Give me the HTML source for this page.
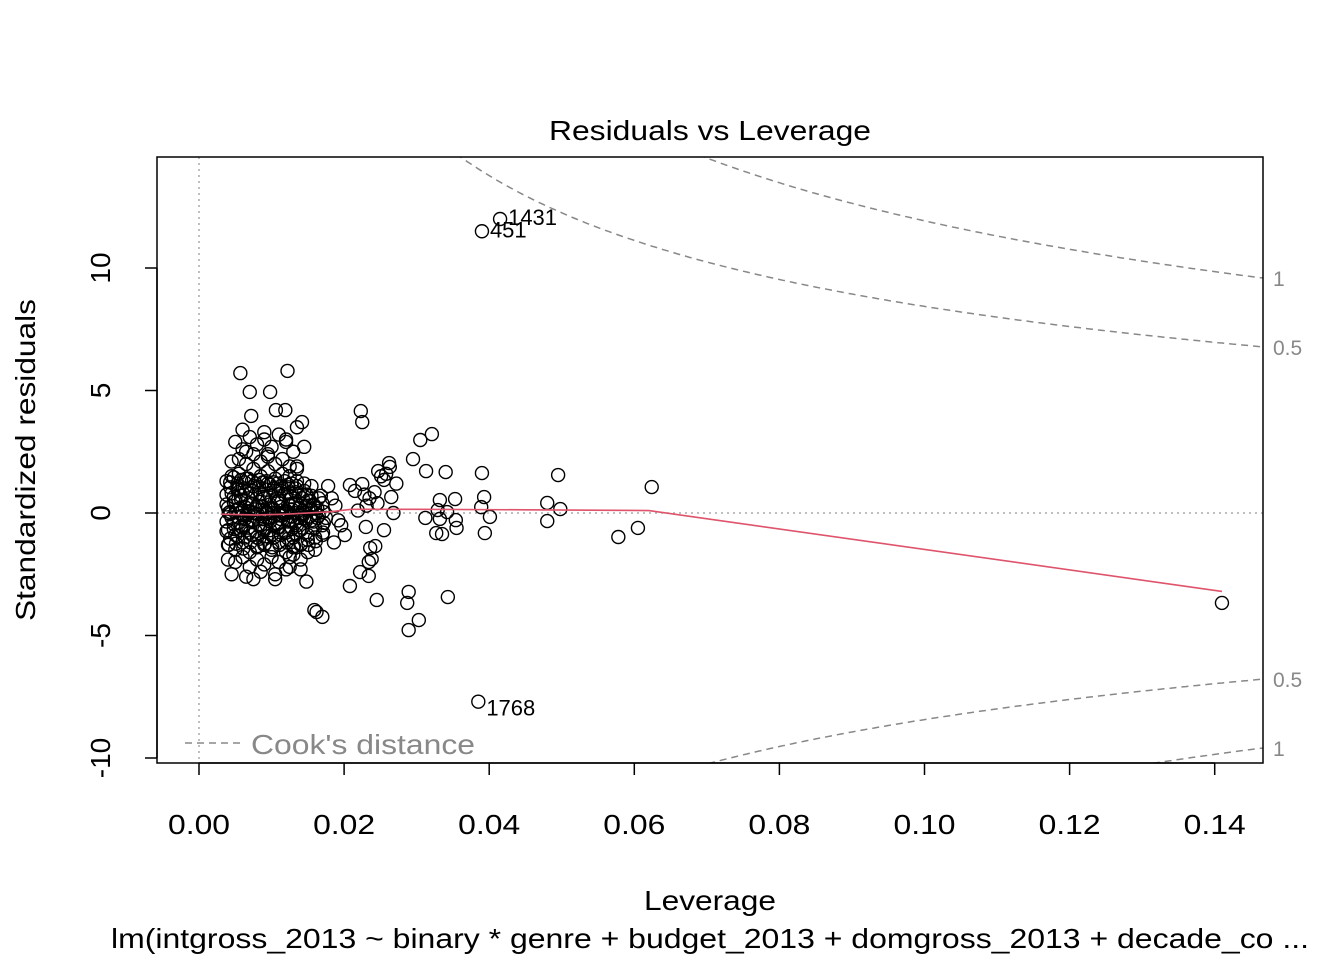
<!DOCTYPE html>
<html><head><meta charset="utf-8">
<style>
html,body{margin:0;background:#fff;overflow:hidden;width:1344px;height:960px;}
svg{display:block;font-family:"Liberation Sans",Arial,sans-serif;}
</style></head>
<body>
<svg id="chart" width="1344" height="960">
<text x="710" y="140" font-size="28" text-anchor="middle" textLength="322" lengthAdjust="spacingAndGlyphs">Residuals vs Leverage</text>
<text x="710" y="910" font-size="28" text-anchor="middle" textLength="132" lengthAdjust="spacingAndGlyphs">Leverage</text>
<text x="710" y="948" font-size="28" text-anchor="middle" textLength="1198" lengthAdjust="spacingAndGlyphs">lm(intgross_2013 ~ binary * genre + budget_2013 + domgross_2013 + decade_co ...</text>
<text transform="translate(35,460) rotate(-90)" font-size="28" text-anchor="middle" textLength="322" lengthAdjust="spacingAndGlyphs">Standardized residuals</text>
<g id="g"></g>
</svg>
<script>
const xTicks=[0,0.02,0.04,0.06,0.08,0.10,0.12,0.14];
const xTickLabels=["0.00","0.02","0.04","0.06","0.08","0.10","0.12","0.14"];
const yTicks=[-10,-5,0,5,10];
const yTickLabels=["-10","-5","0","5","10"];
const cookLevels=[0.5,1];
const cookLabels=["0.5","1"];
const smoothH=[0.003,0.008,0.012,0.018,0.021,0.03,0.045,0.062,0.141];
const smoothR=[-0.05,-0.08,-0.05,0.05,0.15,0.15,0.13,0.1,-3.2];
const outH=[0.0057,0.0122,0.007,0.0098,0.0072,0.0106,0.0119,0.0142,0.0223,0.0225,0.0321,0.0305,0.0295,0.0313,0.034,0.039,0.0495,0.0624,0.0263,0.0255,0.0247,0.0262,0.0208,0.0225,0.0265,0.0332,0.0353,0.0393,0.048,0.0498,0.0389,0.0329,0.0342,0.0332,0.0354,0.0312,0.0401,0.0355,0.048,0.0394,0.0327,0.0335,0.0578,0.0605,0.0255,0.023,0.0236,0.0243,0.0238,0.0234,0.0222,0.0234,0.0208,0.0289,0.0287,0.0343,0.0245,0.0303,0.0289,0.0159,0.0162,0.017,0.141,0.0415,0.039,0.0385,0.0215,0.0228,0.0235,0.0242,0.0251,0.0258,0.0272,0.0231,0.0219,0.0246,0.0268,0.0196,0.0201,0.0188,0.0192,0.0183,0.0186];
const outR=[5.71,5.8,4.94,4.94,3.96,4.2,4.2,3.71,4.16,3.71,3.22,2.98,2.2,1.71,1.67,1.63,1.55,1.06,1.88,1.35,1.71,2.04,1.14,1.18,0.65,0.53,0.57,0.65,0.41,0.16,0.24,0.12,0.04,-0.24,-0.29,-0.2,-0.16,-0.61,-0.33,-0.82,-0.82,-0.86,-0.98,-0.61,-0.7,-0.57,-1.43,-1.35,-1.88,-2.0,-2.41,-2.57,-2.98,-3.22,-3.67,-3.43,-3.55,-4.37,-4.78,-3.96,-4.04,-4.24,-3.67,12.0,11.5,-7.7,0.9,0.75,0.6,0.85,1.5,1.6,1.2,0.3,0.1,0.4,0.0,-0.5,-0.9,0.3,-0.3,0.6,-1.2];
const outLabelIdx=[63,64,65];
const outLabels=["1431","451","1768"];
const clH=[0.004,0.005,0.006,0.007,0.008,0.009,0.010,0.011,0.012,0.013,0.014,0.015,0.016,0.017,0.0045,0.0055,0.0065,0.0075,0.0085,0.0095,0.0105,0.0115,0.0125,0.0135,0.0145,0.0155,0.0165,0.004,0.005,0.006,0.007,0.008,0.009,0.010,0.011,0.012,0.013,0.014,0.015,0.016,0.017,0.0045,0.0055,0.0065,0.0075,0.0085,0.0095,0.0105,0.0115,0.0125,0.0135,0.0145,0.0155,0.0165,0.004,0.005,0.006,0.007,0.008,0.009,0.010,0.011,0.012,0.013,0.014,0.015,0.016,0.017,0.0045,0.0055,0.0065,0.0075,0.0085,0.0095,0.0105,0.0115,0.0125,0.0135,0.0145,0.0155,0.004,0.005,0.006,0.007,0.008,0.009,0.010,0.011,0.012,0.013,0.014,0.015,0.016,0.0045,0.0055,0.0065,0.0075,0.0085,0.0095,0.0105,0.0115,0.0125,0.0135,0.0145,0.005,0.006,0.007,0.008,0.009,0.010,0.011,0.012,0.013,0.014,0.0045,0.0065,0.0085,0.0105,0.0125,0.0145,0.0055,0.0075,0.0095,0.0115,0.0135,0.006,0.009,0.012,0.0148,0.0075,0.0105,0.0135,0.0065,0.0095,0.0125,0.0158,0.0172,0.0168,0.0175,0.0178,0.0164];
const clR=[0.2,0.5,0.1,0.4,0.3,0.6,0.2,0.5,0.1,0.4,0.3,0.5,0.2,0.4,-0.2,-0.4,-0.1,-0.3,-0.5,-0.2,-0.4,-0.1,-0.3,-0.5,-0.2,-0.3,-0.1,-0.7,-0.9,-0.6,-0.8,-1.0,-0.7,-0.9,-0.6,-0.8,-1.0,-0.7,-0.9,-0.6,-0.5,0.8,1.0,0.9,1.1,0.8,1.2,0.9,1.0,0.8,1.1,0.9,0.7,0.6,-1.3,-1.5,-1.2,-1.6,-1.4,-1.3,-1.5,-1.2,-1.6,-1.4,-1.3,-1.1,-1.0,-0.9,1.5,1.6,1.4,1.8,1.5,1.7,1.4,1.6,1.5,1.3,1.2,1.1,-1.9,-2.0,-1.8,-2.2,-1.9,-2.1,-1.8,-2.0,-2.3,-1.7,-1.9,-1.6,-1.5,2.1,2.2,2.0,2.4,2.1,2.3,2.0,2.2,1.9,1.8,2.7,2.9,2.6,3.1,2.8,3.0,2.7,3.2,2.9,2.5,-2.3,-2.5,-2.6,-2.4,-2.7,-2.2,0.0,0.0,0.0,0.0,0.0,3.5,3.4,3.3,3.0,-2.8,-2.7,-2.5,1.9,2.5,2.4,-1.8,0.3,-0.4,0.7,-0.2,1.1];
const cl2H=[0.0038,0.0043,0.0048,0.0053,0.0058,0.0063,0.0068,0.0073,0.0078,0.0083,0.0088,0.0093,0.0098,0.0103,0.0108,0.0113,0.0118,0.0123,0.0128,0.0133,0.0138,0.0143,0.0148,0.0153,0.0158,0.0163,0.0038,0.0043,0.0048,0.0053,0.0058,0.0063,0.0068,0.0073,0.0078,0.0083,0.0088,0.0093,0.0098,0.0103,0.0108,0.0113,0.0118,0.0123,0.0128,0.0133,0.0138,0.0143,0.0148,0.0153,0.0158,0.0163,0.0038,0.0043,0.0048,0.0053,0.0058,0.0063,0.0068,0.0073,0.0078,0.0083,0.0088,0.0093,0.0098,0.0103,0.0108,0.0113,0.0118,0.0123,0.0128,0.0133,0.0138,0.0143,0.0148,0.0153,0.0038,0.0043,0.0048,0.0053,0.0058,0.0063,0.0068,0.0073,0.0078,0.0083,0.0088,0.0093,0.0098,0.0103,0.0108,0.0113,0.0118,0.0123,0.0128,0.0133,0.0138,0.0143,0.0038,0.0043,0.0048,0.0053,0.0058,0.0063,0.0068,0.0073,0.0078,0.0083,0.0088,0.0093,0.0098,0.0103,0.0108,0.0113,0.0118,0.0123,0.0128,0.0133,0.0041,0.0051,0.0061,0.0071,0.0081,0.0091,0.0101,0.0111,0.0121,0.0131,0.0141,0.0151,0.0161,0.0171,0.0041,0.0051,0.0061,0.0071,0.0081,0.0091,0.0101,0.0111,0.0121,0.0131,0.0141,0.0151,0.0161,0.0171];
const cl2R=[0.35,0.05,0.45,0.15,0.55,0.25,0.05,0.35,0.15,0.45,0.25,0.05,0.35,0.15,0.45,0.25,0.05,0.35,0.15,0.4,0.2,0.1,0.3,0.15,0.35,0.2,-0.35,-0.05,-0.45,-0.15,-0.55,-0.25,-0.05,-0.35,-0.15,-0.45,-0.25,-0.05,-0.35,-0.15,-0.45,-0.25,-0.05,-0.35,-0.15,-0.4,-0.2,-0.1,-0.3,-0.15,-0.35,-0.2,0.75,1.05,0.65,0.95,0.7,1.0,0.6,0.9,0.75,1.05,0.65,0.95,0.7,1.0,0.6,0.9,0.75,1.05,0.65,0.85,0.7,0.6,0.75,0.5,-0.75,-1.05,-0.65,-0.95,-0.7,-1.0,-0.6,-0.9,-0.75,-1.05,-0.65,-0.95,-0.7,-1.0,-0.6,-0.9,-0.75,-1.05,-0.65,-0.85,-0.7,-0.6,1.3,1.25,1.45,1.2,1.35,1.25,1.4,1.3,1.2,1.35,1.25,1.3,1.15,1.25,1.2,1.1,1.3,1.15,1.2,1.0,-1.3,-1.25,-1.45,-1.2,-1.35,-1.25,-1.4,-1.3,-1.2,-1.35,-1.25,-1.3,-1.15,-0.8,0.0,0.1,-0.1,0.05,-0.05,0.1,0.0,-0.1,0.05,0.0,-0.05,0.1,0.0,0.05,-1.7,-1.75,-1.6,-1.9,-1.65,-1.8,-1.7,-1.55,-1.85,-1.6,-1.7,-1.4,-1.3,-1.2];

const X0=199,XS=7255,Y0=513,YS=24.5;
const sx=h=>X0+h*XS, sy=r=>Y0-r*YS;
const L=157,R=1263,T=157,B=763;
const NS="http://www.w3.org/2000/svg";
const g=document.getElementById('g');
function mk(t,a,p){const e=document.createElementNS(NS,t);for(const k in a)e.setAttribute(k,a[k]);(p||g).appendChild(e);return e;}

const clip=mk('clipPath',{id:'pc'});mk('rect',{x:L,y:T,width:R-L,height:B-T},clip);
const pa=mk('g',{'clip-path':'url(#pc)'});



let e=mk('line',{x1:sx(0),x2:sx(0),y1:T,y2:B,stroke:'#aaa','stroke-width':1.5,'stroke-dasharray':'2,4'},pa);


e=mk('line',{x1:L,x2:R,y1:sy(0),y2:sy(0),stroke:'#aaa','stroke-width':1.5,'stroke-dasharray':'2,4'},pa);



const P=15.8;
cookLevels.forEach((c,i)=>{
  [1,-1].forEach(s=>{
    let d='';
    for(let h=0.01;h<=0.15;h+=0.0005){const r=s*Math.sqrt(c*P*(1-h)/h);d+=(d?'L':'M')+sx(h).toFixed(1)+','+sy(r).toFixed(1);}
    const p=mk('path',{d:d,fill:'none',stroke:'#888','stroke-width':1.5,'stroke-dasharray':'7,5'},pa);
    
    
    const hr=0.1467, rr=s*Math.sqrt(c*P*(1-hr)/hr);
    const t=mk('text',{x:1273,y:sy(rr)+8,'font-size':21,fill:'#888'});
    t.textContent=cookLabels[i];
    
    
  });
});

function pt(h,r,name){const c=mk('circle',{cx:sx(h),cy:sy(r),r:6.5,fill:'none',stroke:'#000','stroke-width':1.4},pa);

}
clH.forEach((h,i)=>pt(h,clR[i],'point'));
cl2H.forEach((h,i)=>pt(h,cl2R[i],'point'));
outH.forEach((h,i)=>pt(h,outR[i],'point'));
outLabelIdx.forEach((k,j)=>{const t=mk('text',{x:sx(outH[k])+8,y:sy(outR[k])+(j==2?14:6),'font-size':22});t.textContent=outLabels[j];

});

let d='';smoothH.forEach((h,i)=>{d+=(i?'L':'M')+sx(h)+','+sy(smoothR[i]);});
e=mk('path',{d:d,fill:'none',stroke:'#DF536B','stroke-width':1.6},pa);



e=mk('rect',{x:L,y:T,width:R-L,height:B-T,fill:'none',stroke:'#000','stroke-width':1.5});



e=mk('line',{x1:sx(0),x2:sx(0.14),y1:B,y2:B,stroke:'#000','stroke-width':1.5});


xTicks.forEach((v,i)=>{mk('line',{x1:sx(v),x2:sx(v),y1:B,y2:B+12,stroke:'#000','stroke-width':1.5});
const t=mk('text',{x:sx(v),y:834,'font-size':28,'text-anchor':'middle',textLength:62,lengthAdjust:'spacingAndGlyphs'});t.textContent=xTickLabels[i];

});
e=mk('line',{x1:L,x2:L,y1:sy(-10),y2:sy(10),stroke:'#000','stroke-width':1.5});


yTicks.forEach((v,i)=>{mk('line',{x1:L,x2:L-12,y1:sy(v),y2:sy(v),stroke:'#000','stroke-width':1.5});
const t=mk('text',{transform:`translate(110,${sy(v)}) rotate(-90)`,'font-size':28,'text-anchor':'middle'});t.textContent=yTickLabels[i];

});

const lg=mk('g',{});


mk('line',{x1:185,x2:240,y1:743,y2:743,stroke:'#888','stroke-width':1.5,'stroke-dasharray':'7,5'},lg);
const lt=mk('text',{x:251,y:754,'font-size':28,fill:'#888',textLength:224,lengthAdjust:'spacingAndGlyphs'},lg);lt.textContent="Cook's distance";


</script>
</body></html>
